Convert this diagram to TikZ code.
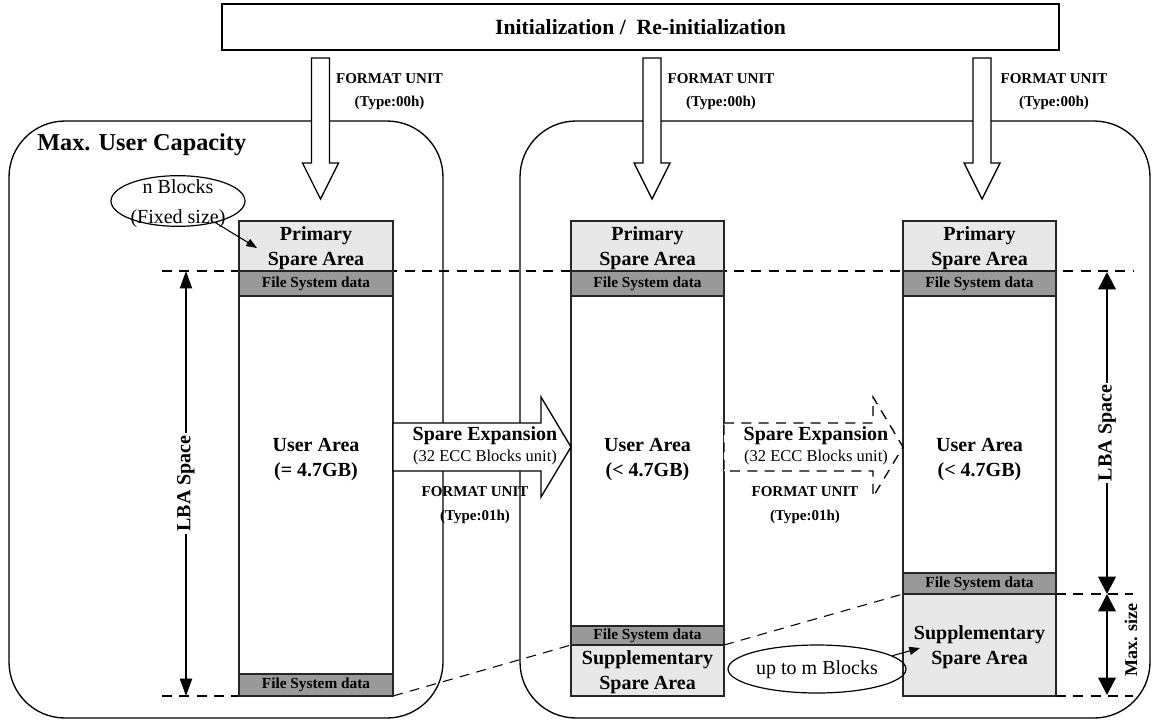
\documentclass[tikz,border=0pt]{standalone}
\usepackage{fontspec}
\setmainfont{Liberation Serif}
\usetikzlibrary{shapes.geometric,arrows.meta,fit,backgrounds}

\tikzset{
  area/.style={draw=black!85, line width=1.1pt, inner sep=0pt, outer sep=0pt},
  spare/.style={area, fill=black!9},
  fsdata/.style={area, fill=black!40},
  userbox/.style={area, fill=white},
  frame/.style={draw, line width=1pt, inner sep=0pt, outer sep=0pt, rounded corners=42pt},
  guide/.style={line width=0.8pt, dash pattern=on 7.5pt off 5.5pt},
  bigtxt/.style={inner sep=0pt, align=center, font=\fontsize{15pt}{18.75pt}\selectfont\bfseries},
  fstxt/.style={inner sep=0pt, align=center, font=\fontsize{11.5pt}{13pt}\selectfont\bfseries},
  cmdtxt/.style={inner sep=0pt, align=center, font=\fontsize{11.25pt}{17.5pt}\selectfont\bfseries},
  plaintxt/.style={inner sep=0pt, align=center, font=\fontsize{15pt}{22.5pt}\selectfont},
  smalltxt/.style={inner sep=0pt, align=center, font=\fontsize{12.4pt}{14pt}\selectfont},
  hollow/.style={draw, fill=white, line width=1pt, line join=miter},
  spanL/.style={line width=1.5pt, {Triangle[length=13pt,width=9pt]}-{Triangle[length=13pt,width=9pt]}},
  spanR/.style={line width=1.8pt, {Triangle[length=13pt,width=13pt]}-{Triangle[length=13pt,width=13pt]}},
  spanlabel/.style={rotate=90, fill=white, inner sep=1.5pt, font=\fontsize{15pt}{18pt}\selectfont\bfseries},
  pointer/.style={line width=0.8pt, -{Triangle[length=8pt,width=6pt]}},
  bubble/.style={ellipse, draw, line width=0.9pt, inner sep=0pt},
  downarrow/.pic={\path[hollow] (-9,0) -- (-9,105) -- (-18,105) -- (0,141) -- (18,105) -- (9,105) -- (9,0) -- cycle;},
}

\begin{document}
\begin{tikzpicture}[x=0.75pt,y=-0.75pt]
\useasboundingbox (0,0) rectangle (1153,722);

% top command box
\node[draw, line width=1pt, inner sep=0pt, outer sep=0pt, fit={(222,4)(1059,50)}] (init) {};
\node[inner sep=0pt, font=\fontsize{16.25pt}{18pt}\selectfont\bfseries] (initT) at (init.center) {Initialization /\enspace Re-initialization};

% capacity frames
\node[frame, fit={(9,121)(443,718)}] (capL) {};
\node[frame, fit={(520,121)(1150,718)}] (capR) {};
\node[inner sep=0pt, anchor=west, font=\fontsize{18.2pt}{20pt}\selectfont\bfseries] (capT) at (37,145) {Max. User Capacity};

% column 1
\node[spare, fit={(239,221)(393,271)}] (p1) {};
\node[fsdata, fit={(239,271)(393,296)}] (f1a) {};
\node[userbox, fit={(239,296)(393,674)}] (u1) {};
\node[fsdata, fit={(239,674)(393,696)}] (f1b) {};

% column 2
\node[spare, fit={(571,221)(724,271)}] (p2) {};
\node[fsdata, fit={(571,271)(724,296)}] (f2a) {};
\node[userbox, fit={(571,296)(724,626)}] (u2) {};
\node[fsdata, fit={(571,626)(724,645)}] (f2b) {};
\node[spare, fit={(571,645)(724,696)}] (s2) {};

% column 3
\node[spare, fit={(903,221)(1056,271)}] (p3) {};
\node[fsdata, fit={(903,271)(1056,296)}] (f3a) {};
\node[userbox, fit={(903,296)(1056,573)}] (u3) {};
\node[fsdata, fit={(903,573)(1056,594)}] (f3b) {};
\node[spare, fit={(903,594)(1056,696)}] (s3) {};

% area captions
\foreach \c in {1,2,3} {
  \node[bigtxt] (p\c t) at ([yshift=-1.5pt]p\c.center) {Primary\\Spare Area};
  \node[fstxt] (f\c at) at (f\c a.center) {File System data};
  \node[fstxt] (f\c bt) at (f\c b.center) {File System data};
}
\node[bigtxt] (u1t) at (316,460) {User Area\\(= 4.7GB)};
\node[bigtxt] (u2t) at (647.5,460) {User Area\\(< 4.7GB)};
\node[bigtxt] (u3t) at (979.5,460) {User Area\\(< 4.7GB)};
\node[bigtxt] (s2t) at ([yshift=-1.5pt]s2.center) {Supplementary\\Spare Area};
\node[bigtxt] (s3t) at ([yshift=-1.5pt]s3.center) {Supplementary\\Spare Area};

% guide lines
\coordinate (gTL) at (162,271);
\coordinate (gTR) at (1133,271);
\coordinate (gBL) at (162,696);
\coordinate (gR1) at (1133,594);
\coordinate (gR2) at (1133,696);
\begin{scope}[on background layer]
  \draw[guide] (gTL) -- (gTR);
  \draw[guide] (gBL) -- (f1b.south west);
  \draw[guide] (f1b.south east) -- (s2.north west);
  \draw[guide] (s2.north east) -- (s3.north west);
  \draw[guide] (f3b.south east) -- (gR1);
  \draw[guide] (s3.south east) -- (gR2);
\end{scope}

% FORMAT UNIT (Type:00h) arrows
\pic at (320.5,58) {downarrow};
\pic at (652,58) {downarrow};
\pic at (982,58) {downarrow};
\node[cmdtxt] (fu1) at (389.5,91.5) {FORMAT UNIT\\(Type:00h)};
\node[cmdtxt] (fu2) at (721,91.5) {FORMAT UNIT\\(Type:00h)};
\node[cmdtxt] (fu3) at (1054,91.5) {FORMAT UNIT\\(Type:00h)};

% spare expansion arrows
\path[hollow] (393,423) -- (541,423) -- (541,397) -- (571,447) -- (541,497) -- (541,471) -- (393,471) -- cycle;
\path[hollow, dash pattern=on 7.5pt off 5.5pt] (724,423) -- (873,423) -- (873,397) -- (903,447) -- (873,497) -- (873,471) -- (724,471) -- cycle;
\node[bigtxt] (se1) at (485,436) {Spare Expansion};
\node[smalltxt] (ecc1) at (485,458) {(32 ECC Blocks unit)};
\node[cmdtxt] (fx1) at (475,505) {FORMAT UNIT\\(Type:01h)};
\node[bigtxt] (se2) at (816,436) {Spare Expansion};
\node[smalltxt] (ecc2) at (816,458) {(32 ECC Blocks unit)};
\node[cmdtxt] (fx2) at (805,505) {FORMAT UNIT\\(Type:01h)};

% block-count bubbles
\node[bubble, minimum width=100.5pt, minimum height=38pt] (nb) at (178,201) {};
\node[plaintxt] (nbt) at (178,204) {n Blocks\\(Fixed size)};
\coordinate (nbTip) at (257,248);
\draw[pointer] (nb.-30) -- (nbTip);

\node[bubble, minimum width=133.5pt, minimum height=36pt] (um) at (817,669) {};
\node[plaintxt] (umt) at (817,670) {up to m Blocks};
\coordinate (umTip) at (920,648);
\draw[pointer] (um.10) -- (umTip);

% LBA space and size spans
\coordinate (lbaL1) at (186,271);
\coordinate (lbaL2) at (186,696);
\draw[spanL] (lbaL1) -- node[spanlabel] (lbaLt) {LBA Space} (lbaL2);
\coordinate (lbaR1) at (1107,272);
\coordinate (lbaR2) at (1107,594);
\coordinate (lbaR3) at (1107,695);
\draw[spanR] (lbaR1) -- node[spanlabel] (lbaRt) {LBA Space} (lbaR2);
\draw[spanR] (lbaR2) -- (lbaR3);
\node[rotate=90, inner sep=0pt, font=\fontsize{13.5pt}{16pt}\selectfont\bfseries] (maxs) at (1131,640) {Max. size};

\end{tikzpicture}
\end{document}
